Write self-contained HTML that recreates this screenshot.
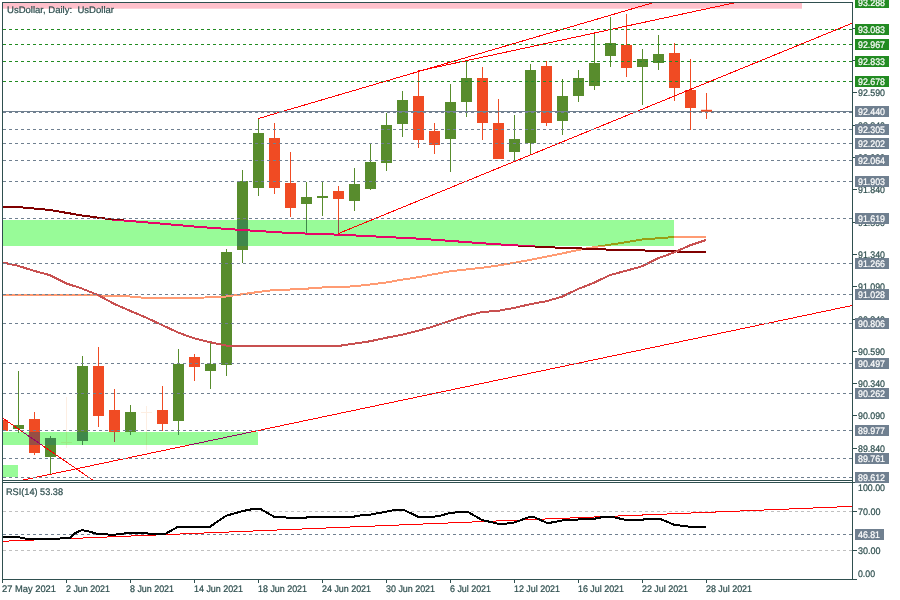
<!DOCTYPE html>
<html><head><meta charset="utf-8"><title>UsDollar Daily</title>
<style>html,body{margin:0;padding:0;background:#fff}body{width:900px;height:600px;overflow:hidden}</style></head>
<body>
<svg width="900" height="600" viewBox="0 0 900 600" style="display:block;will-change:transform" font-family="Liberation Sans, Arial, sans-serif" font-size="9.5" text-rendering="geometricPrecision">
<defs>
<clipPath id="main"><rect x="3" y="3" width="849" height="477"/></clipPath>
<clipPath id="b1"><rect x="3" y="432" width="255" height="13"/></clipPath>
<clipPath id="b2"><rect x="3" y="220" width="671" height="26"/></clipPath>
<clipPath id="b3"><rect x="3" y="465" width="15" height="12"/></clipPath>
<clipPath id="rsi"><rect x="3" y="483" width="849" height="96"/></clipPath>
</defs>
<rect width="900" height="600" fill="#FFFFFF"/>
<g clip-path="url(#main)">
<g shape-rendering="crispEdges"><rect x="2" y="420" width="1" height="11" fill="#F04B23"/>
<rect x="-3" y="420" width="11" height="11" fill="#F04B23"/>
<rect x="18" y="371" width="1" height="62" fill="#588C2D"/>
<rect x="13" y="425" width="11" height="4" fill="#588C2D"/>
<rect x="34" y="412" width="1" height="43" fill="#F04B23"/>
<rect x="29" y="419" width="11" height="34" fill="#F04B23"/>
<rect x="50" y="436" width="1" height="39" fill="#588C2D"/>
<rect x="45" y="438" width="11" height="19" fill="#588C2D"/>
<rect x="66" y="397" width="1" height="51" fill="#FDEEE2"/>
<rect x="61" y="442" width="11" height="1" fill="#FDEEE2"/>
<rect x="82" y="356" width="1" height="89" fill="#588C2D"/>
<rect x="77" y="366" width="11" height="75" fill="#588C2D"/>
<rect x="98" y="347" width="1" height="80" fill="#F04B23"/>
<rect x="93" y="366" width="11" height="50" fill="#F04B23"/>
<rect x="114" y="389" width="1" height="53" fill="#F04B23"/>
<rect x="109" y="410" width="11" height="22" fill="#F04B23"/>
<rect x="130" y="405" width="1" height="30" fill="#588C2D"/>
<rect x="125" y="412" width="11" height="20" fill="#588C2D"/>
<rect x="146" y="406" width="1" height="44" fill="#FDEEE2"/>
<rect x="141" y="412" width="11" height="1" fill="#FDEEE2"/>
<rect x="162" y="386" width="1" height="45" fill="#F04B23"/>
<rect x="157" y="410" width="11" height="14" fill="#F04B23"/>
<rect x="178" y="349" width="1" height="86" fill="#588C2D"/>
<rect x="173" y="364" width="11" height="57" fill="#588C2D"/>
<rect x="194" y="354" width="1" height="27" fill="#F04B23"/>
<rect x="189" y="357" width="11" height="10" fill="#F04B23"/>
<rect x="210" y="343" width="1" height="46" fill="#588C2D"/>
<rect x="205" y="364" width="11" height="7" fill="#588C2D"/>
<rect x="226" y="249" width="1" height="127" fill="#588C2D"/>
<rect x="221" y="252" width="11" height="113" fill="#588C2D"/>
<rect x="242" y="170" width="1" height="93" fill="#588C2D"/>
<rect x="237" y="181" width="11" height="69" fill="#588C2D"/>
<rect x="258" y="118" width="1" height="78" fill="#588C2D"/>
<rect x="253" y="133" width="11" height="55" fill="#588C2D"/>
<rect x="274" y="123" width="1" height="71" fill="#F04B23"/>
<rect x="269" y="138" width="11" height="50" fill="#F04B23"/>
<rect x="290" y="152" width="1" height="65" fill="#F04B23"/>
<rect x="285" y="183" width="11" height="25" fill="#F04B23"/>
<rect x="306" y="182" width="1" height="51" fill="#588C2D"/>
<rect x="301" y="197" width="11" height="7" fill="#588C2D"/>
<rect x="322" y="182" width="1" height="34" fill="#588C2D"/>
<rect x="317" y="196" width="11" height="2" fill="#588C2D"/>
<rect x="338" y="186" width="1" height="47" fill="#F04B23"/>
<rect x="333" y="191" width="11" height="8" fill="#F04B23"/>
<rect x="354" y="168" width="1" height="43" fill="#588C2D"/>
<rect x="349" y="184" width="11" height="17" fill="#588C2D"/>
<rect x="370" y="143" width="1" height="47" fill="#588C2D"/>
<rect x="365" y="162" width="11" height="27" fill="#588C2D"/>
<rect x="386" y="113" width="1" height="58" fill="#588C2D"/>
<rect x="381" y="125" width="11" height="38" fill="#588C2D"/>
<rect x="402" y="91" width="1" height="46" fill="#588C2D"/>
<rect x="397" y="100" width="11" height="24" fill="#588C2D"/>
<rect x="418" y="71" width="1" height="77" fill="#F04B23"/>
<rect x="413" y="96" width="11" height="44" fill="#F04B23"/>
<rect x="434" y="123" width="1" height="31" fill="#F04B23"/>
<rect x="429" y="131" width="11" height="14" fill="#F04B23"/>
<rect x="450" y="84" width="1" height="88" fill="#588C2D"/>
<rect x="445" y="102" width="11" height="37" fill="#588C2D"/>
<rect x="466" y="61" width="1" height="56" fill="#588C2D"/>
<rect x="461" y="78" width="11" height="24" fill="#588C2D"/>
<rect x="482" y="67" width="1" height="73" fill="#F04B23"/>
<rect x="477" y="78" width="11" height="45" fill="#F04B23"/>
<rect x="498" y="99" width="1" height="60" fill="#F04B23"/>
<rect x="493" y="123" width="11" height="36" fill="#F04B23"/>
<rect x="514" y="115" width="1" height="46" fill="#588C2D"/>
<rect x="509" y="139" width="11" height="13" fill="#588C2D"/>
<rect x="530" y="64" width="1" height="90" fill="#588C2D"/>
<rect x="525" y="70" width="11" height="73" fill="#588C2D"/>
<rect x="546" y="61" width="1" height="65" fill="#F04B23"/>
<rect x="541" y="66" width="11" height="57" fill="#F04B23"/>
<rect x="562" y="79" width="1" height="56" fill="#588C2D"/>
<rect x="557" y="96" width="11" height="25" fill="#588C2D"/>
<rect x="578" y="70" width="1" height="32" fill="#588C2D"/>
<rect x="573" y="78" width="11" height="18" fill="#588C2D"/>
<rect x="594" y="34" width="1" height="56" fill="#588C2D"/>
<rect x="589" y="63" width="11" height="23" fill="#588C2D"/>
<rect x="610" y="17" width="1" height="50" fill="#588C2D"/>
<rect x="605" y="43" width="11" height="13" fill="#588C2D"/>
<rect x="626" y="14" width="1" height="63" fill="#F04B23"/>
<rect x="621" y="45" width="11" height="23" fill="#F04B23"/>
<rect x="642" y="49" width="1" height="56" fill="#588C2D"/>
<rect x="637" y="59" width="11" height="8" fill="#588C2D"/>
<rect x="658" y="35" width="1" height="35" fill="#588C2D"/>
<rect x="653" y="54" width="11" height="9" fill="#588C2D"/>
<rect x="674" y="43" width="1" height="58" fill="#F04B23"/>
<rect x="669" y="53" width="11" height="35" fill="#F04B23"/>
<rect x="690" y="59" width="1" height="71" fill="#F04B23"/>
<rect x="685" y="90" width="11" height="18" fill="#F04B23"/>
<rect x="706" y="93" width="1" height="26" fill="#F04B23"/>
<rect x="701" y="110" width="11" height="2" fill="#F04B23"/></g>
<polyline points="2,294.6 50,294.7 98,295.5 130,296.5 146,298 194,298 226,296.5 242,294.3 258,292 274,290 290,289.5 306,288.7 322,287.5 338,287.2 354,286.3 370,284.5 386,282.5 402,279.7 418,277.2 434,274.2 450,271.3 466,269.5 482,267.8 498,265.5 514,262.8 530,260 546,256.7 562,253.5 578,250 594,247.2 610,244.7 626,242.2 642,239.5 658,238.3 674,237 706,237" fill="none" stroke="#FF9B73" stroke-width="2" stroke-linejoin="round" shape-rendering="crispEdges" />
<polyline points="2,207 18,207 50,210 82,215.5 114,219.7 146,222.3 200,227 242,230 290,233 340,234.7 420,238.7 490,243.8 514,245.3 530,246.2 546,247.2 570,248 610,249.7 658,250.8 690,252 706,252" fill="none" stroke="#800000" stroke-width="2" stroke-linejoin="round" shape-rendering="crispEdges" />
<polyline points="2,262.3 18,265.8 34,270.8 50,275.2 66,283.3 82,288.6 98,295 114,303.8 130,310.8 146,317.5 162,325 178,332.5 194,338.3 210,342.2 226,345.5 232,346 338,346 354,343.7 370,341.3 386,337.8 402,334.7 418,330.8 434,326.3 450,320.8 466,315.8 482,312 498,310.8 514,308 530,304.2 546,301.3 562,296.7 578,289 594,282.8 610,275 626,270.8 642,266.3 658,258.3 674,252.5 690,245.3 706,240" fill="none" stroke="#C85050" stroke-width="2" stroke-linejoin="round" shape-rendering="crispEdges" />
<line x1="2.5" y1="418" x2="93.3" y2="480.5" stroke="#FF0000" stroke-width="1" shape-rendering="crispEdges"/>
<line x1="20.8" y1="480.5" x2="852" y2="305.5" stroke="#FF0000" stroke-width="1" shape-rendering="crispEdges"/>
<rect x="3" y="432" width="255" height="13" fill="#98FB98" shape-rendering="crispEdges"/>
<rect x="3" y="220" width="671" height="26" fill="#98FB98" shape-rendering="crispEdges"/>
<rect x="3" y="465" width="15" height="12" fill="#98FB98" shape-rendering="crispEdges"/>
<rect x="3" y="3" width="799" height="5.7" fill="#FFC0CB"/>
<g clip-path="url(#b1)">
<g shape-rendering="crispEdges"><rect x="2" y="420" width="1" height="11" fill="#974F44"/>
<rect x="-3" y="420" width="11" height="11" fill="#974F44"/>
<rect x="18" y="371" width="1" height="62" fill="#3F884A"/>
<rect x="13" y="425" width="11" height="4" fill="#3F884A"/>
<rect x="34" y="412" width="1" height="43" fill="#974F44"/>
<rect x="29" y="419" width="11" height="34" fill="#974F44"/>
<rect x="50" y="436" width="1" height="39" fill="#3F884A"/>
<rect x="45" y="438" width="11" height="19" fill="#3F884A"/>
<rect x="66" y="397" width="1" height="51" fill="#9AEA85"/>
<rect x="61" y="442" width="11" height="1" fill="#9AEA85"/>
<rect x="82" y="356" width="1" height="89" fill="#3F884A"/>
<rect x="77" y="366" width="11" height="75" fill="#3F884A"/>
<rect x="98" y="347" width="1" height="80" fill="#974F44"/>
<rect x="93" y="366" width="11" height="50" fill="#974F44"/>
<rect x="114" y="389" width="1" height="53" fill="#974F44"/>
<rect x="109" y="410" width="11" height="22" fill="#974F44"/>
<rect x="130" y="405" width="1" height="30" fill="#3F884A"/>
<rect x="125" y="412" width="11" height="20" fill="#3F884A"/>
<rect x="146" y="406" width="1" height="44" fill="#9AEA85"/>
<rect x="141" y="412" width="11" height="1" fill="#9AEA85"/>
<rect x="162" y="386" width="1" height="45" fill="#974F44"/>
<rect x="157" y="410" width="11" height="14" fill="#974F44"/>
<rect x="178" y="349" width="1" height="86" fill="#3F884A"/>
<rect x="173" y="364" width="11" height="57" fill="#3F884A"/>
<rect x="194" y="354" width="1" height="27" fill="#974F44"/>
<rect x="189" y="357" width="11" height="10" fill="#974F44"/>
<rect x="210" y="343" width="1" height="46" fill="#3F884A"/>
<rect x="205" y="364" width="11" height="7" fill="#3F884A"/>
<rect x="226" y="249" width="1" height="127" fill="#3F884A"/>
<rect x="221" y="252" width="11" height="113" fill="#3F884A"/>
<rect x="242" y="170" width="1" height="93" fill="#3F884A"/>
<rect x="237" y="181" width="11" height="69" fill="#3F884A"/>
<rect x="258" y="118" width="1" height="78" fill="#3F884A"/>
<rect x="253" y="133" width="11" height="55" fill="#3F884A"/>
<rect x="274" y="123" width="1" height="71" fill="#974F44"/>
<rect x="269" y="138" width="11" height="50" fill="#974F44"/>
<rect x="290" y="152" width="1" height="65" fill="#974F44"/>
<rect x="285" y="183" width="11" height="25" fill="#974F44"/>
<rect x="306" y="182" width="1" height="51" fill="#3F884A"/>
<rect x="301" y="197" width="11" height="7" fill="#3F884A"/>
<rect x="322" y="182" width="1" height="34" fill="#3F884A"/>
<rect x="317" y="196" width="11" height="2" fill="#3F884A"/>
<rect x="338" y="186" width="1" height="47" fill="#974F44"/>
<rect x="333" y="191" width="11" height="8" fill="#974F44"/>
<rect x="354" y="168" width="1" height="43" fill="#3F884A"/>
<rect x="349" y="184" width="11" height="17" fill="#3F884A"/>
<rect x="370" y="143" width="1" height="47" fill="#3F884A"/>
<rect x="365" y="162" width="11" height="27" fill="#3F884A"/>
<rect x="386" y="113" width="1" height="58" fill="#3F884A"/>
<rect x="381" y="125" width="11" height="38" fill="#3F884A"/>
<rect x="402" y="91" width="1" height="46" fill="#3F884A"/>
<rect x="397" y="100" width="11" height="24" fill="#3F884A"/>
<rect x="418" y="71" width="1" height="77" fill="#974F44"/>
<rect x="413" y="96" width="11" height="44" fill="#974F44"/>
<rect x="434" y="123" width="1" height="31" fill="#974F44"/>
<rect x="429" y="131" width="11" height="14" fill="#974F44"/>
<rect x="450" y="84" width="1" height="88" fill="#3F884A"/>
<rect x="445" y="102" width="11" height="37" fill="#3F884A"/>
<rect x="466" y="61" width="1" height="56" fill="#3F884A"/>
<rect x="461" y="78" width="11" height="24" fill="#3F884A"/>
<rect x="482" y="67" width="1" height="73" fill="#974F44"/>
<rect x="477" y="78" width="11" height="45" fill="#974F44"/>
<rect x="498" y="99" width="1" height="60" fill="#974F44"/>
<rect x="493" y="123" width="11" height="36" fill="#974F44"/>
<rect x="514" y="115" width="1" height="46" fill="#3F884A"/>
<rect x="509" y="139" width="11" height="13" fill="#3F884A"/>
<rect x="530" y="64" width="1" height="90" fill="#3F884A"/>
<rect x="525" y="70" width="11" height="73" fill="#3F884A"/>
<rect x="546" y="61" width="1" height="65" fill="#974F44"/>
<rect x="541" y="66" width="11" height="57" fill="#974F44"/>
<rect x="562" y="79" width="1" height="56" fill="#3F884A"/>
<rect x="557" y="96" width="11" height="25" fill="#3F884A"/>
<rect x="578" y="70" width="1" height="32" fill="#3F884A"/>
<rect x="573" y="78" width="11" height="18" fill="#3F884A"/>
<rect x="594" y="34" width="1" height="56" fill="#3F884A"/>
<rect x="589" y="63" width="11" height="23" fill="#3F884A"/>
<rect x="610" y="17" width="1" height="50" fill="#3F884A"/>
<rect x="605" y="43" width="11" height="13" fill="#3F884A"/>
<rect x="626" y="14" width="1" height="63" fill="#974F44"/>
<rect x="621" y="45" width="11" height="23" fill="#974F44"/>
<rect x="642" y="49" width="1" height="56" fill="#3F884A"/>
<rect x="637" y="59" width="11" height="8" fill="#3F884A"/>
<rect x="658" y="35" width="1" height="35" fill="#3F884A"/>
<rect x="653" y="54" width="11" height="9" fill="#3F884A"/>
<rect x="674" y="43" width="1" height="58" fill="#974F44"/>
<rect x="669" y="53" width="11" height="35" fill="#974F44"/>
<rect x="690" y="59" width="1" height="71" fill="#974F44"/>
<rect x="685" y="90" width="11" height="18" fill="#974F44"/>
<rect x="706" y="93" width="1" height="26" fill="#974F44"/>
<rect x="701" y="110" width="11" height="2" fill="#974F44"/></g>
<polyline points="2,294.6 50,294.7 98,295.5 130,296.5 146,298 194,298 226,296.5 242,294.3 258,292 274,290 290,289.5 306,288.7 322,287.5 338,287.2 354,286.3 370,284.5 386,282.5 402,279.7 418,277.2 434,274.2 450,271.3 466,269.5 482,267.8 498,265.5 514,262.8 530,260 546,256.7 562,253.5 578,250 594,247.2 610,244.7 626,242.2 642,239.5 658,238.3 674,237 706,237" fill="none" stroke="#989F14" stroke-width="2" stroke-linejoin="round" shape-rendering="crispEdges" />
<polyline points="2,207 18,207 50,210 82,215.5 114,219.7 146,222.3 200,227 242,230 290,233 340,234.7 420,238.7 490,243.8 514,245.3 530,246.2 546,247.2 570,248 610,249.7 658,250.8 690,252 706,252" fill="none" stroke="#E70467" stroke-width="2" stroke-linejoin="round" shape-rendering="crispEdges" />
<polyline points="2,262.3 18,265.8 34,270.8 50,275.2 66,283.3 82,288.6 98,295 114,303.8 130,310.8 146,317.5 162,325 178,332.5 194,338.3 210,342.2 226,345.5 232,346 338,346 354,343.7 370,341.3 386,337.8 402,334.7 418,330.8 434,326.3 450,320.8 466,315.8 482,312 498,310.8 514,308 530,304.2 546,301.3 562,296.7 578,289 594,282.8 610,275 626,270.8 642,266.3 658,258.3 674,252.5 690,245.3 706,240" fill="none" stroke="#AF5437" stroke-width="2" stroke-linejoin="round" shape-rendering="crispEdges" />
<line x1="2.5" y1="418" x2="93.3" y2="480.5" stroke="#980467" stroke-width="1" shape-rendering="crispEdges"/>
<line x1="20.8" y1="480.5" x2="852" y2="305.5" stroke="#980467" stroke-width="1" shape-rendering="crispEdges"/>
</g>
<g clip-path="url(#b2)">
<g shape-rendering="crispEdges"><rect x="2" y="420" width="1" height="11" fill="#974F44"/>
<rect x="-3" y="420" width="11" height="11" fill="#974F44"/>
<rect x="18" y="371" width="1" height="62" fill="#3F884A"/>
<rect x="13" y="425" width="11" height="4" fill="#3F884A"/>
<rect x="34" y="412" width="1" height="43" fill="#974F44"/>
<rect x="29" y="419" width="11" height="34" fill="#974F44"/>
<rect x="50" y="436" width="1" height="39" fill="#3F884A"/>
<rect x="45" y="438" width="11" height="19" fill="#3F884A"/>
<rect x="66" y="397" width="1" height="51" fill="#9AEA85"/>
<rect x="61" y="442" width="11" height="1" fill="#9AEA85"/>
<rect x="82" y="356" width="1" height="89" fill="#3F884A"/>
<rect x="77" y="366" width="11" height="75" fill="#3F884A"/>
<rect x="98" y="347" width="1" height="80" fill="#974F44"/>
<rect x="93" y="366" width="11" height="50" fill="#974F44"/>
<rect x="114" y="389" width="1" height="53" fill="#974F44"/>
<rect x="109" y="410" width="11" height="22" fill="#974F44"/>
<rect x="130" y="405" width="1" height="30" fill="#3F884A"/>
<rect x="125" y="412" width="11" height="20" fill="#3F884A"/>
<rect x="146" y="406" width="1" height="44" fill="#9AEA85"/>
<rect x="141" y="412" width="11" height="1" fill="#9AEA85"/>
<rect x="162" y="386" width="1" height="45" fill="#974F44"/>
<rect x="157" y="410" width="11" height="14" fill="#974F44"/>
<rect x="178" y="349" width="1" height="86" fill="#3F884A"/>
<rect x="173" y="364" width="11" height="57" fill="#3F884A"/>
<rect x="194" y="354" width="1" height="27" fill="#974F44"/>
<rect x="189" y="357" width="11" height="10" fill="#974F44"/>
<rect x="210" y="343" width="1" height="46" fill="#3F884A"/>
<rect x="205" y="364" width="11" height="7" fill="#3F884A"/>
<rect x="226" y="249" width="1" height="127" fill="#3F884A"/>
<rect x="221" y="252" width="11" height="113" fill="#3F884A"/>
<rect x="242" y="170" width="1" height="93" fill="#3F884A"/>
<rect x="237" y="181" width="11" height="69" fill="#3F884A"/>
<rect x="258" y="118" width="1" height="78" fill="#3F884A"/>
<rect x="253" y="133" width="11" height="55" fill="#3F884A"/>
<rect x="274" y="123" width="1" height="71" fill="#974F44"/>
<rect x="269" y="138" width="11" height="50" fill="#974F44"/>
<rect x="290" y="152" width="1" height="65" fill="#974F44"/>
<rect x="285" y="183" width="11" height="25" fill="#974F44"/>
<rect x="306" y="182" width="1" height="51" fill="#3F884A"/>
<rect x="301" y="197" width="11" height="7" fill="#3F884A"/>
<rect x="322" y="182" width="1" height="34" fill="#3F884A"/>
<rect x="317" y="196" width="11" height="2" fill="#3F884A"/>
<rect x="338" y="186" width="1" height="47" fill="#974F44"/>
<rect x="333" y="191" width="11" height="8" fill="#974F44"/>
<rect x="354" y="168" width="1" height="43" fill="#3F884A"/>
<rect x="349" y="184" width="11" height="17" fill="#3F884A"/>
<rect x="370" y="143" width="1" height="47" fill="#3F884A"/>
<rect x="365" y="162" width="11" height="27" fill="#3F884A"/>
<rect x="386" y="113" width="1" height="58" fill="#3F884A"/>
<rect x="381" y="125" width="11" height="38" fill="#3F884A"/>
<rect x="402" y="91" width="1" height="46" fill="#3F884A"/>
<rect x="397" y="100" width="11" height="24" fill="#3F884A"/>
<rect x="418" y="71" width="1" height="77" fill="#974F44"/>
<rect x="413" y="96" width="11" height="44" fill="#974F44"/>
<rect x="434" y="123" width="1" height="31" fill="#974F44"/>
<rect x="429" y="131" width="11" height="14" fill="#974F44"/>
<rect x="450" y="84" width="1" height="88" fill="#3F884A"/>
<rect x="445" y="102" width="11" height="37" fill="#3F884A"/>
<rect x="466" y="61" width="1" height="56" fill="#3F884A"/>
<rect x="461" y="78" width="11" height="24" fill="#3F884A"/>
<rect x="482" y="67" width="1" height="73" fill="#974F44"/>
<rect x="477" y="78" width="11" height="45" fill="#974F44"/>
<rect x="498" y="99" width="1" height="60" fill="#974F44"/>
<rect x="493" y="123" width="11" height="36" fill="#974F44"/>
<rect x="514" y="115" width="1" height="46" fill="#3F884A"/>
<rect x="509" y="139" width="11" height="13" fill="#3F884A"/>
<rect x="530" y="64" width="1" height="90" fill="#3F884A"/>
<rect x="525" y="70" width="11" height="73" fill="#3F884A"/>
<rect x="546" y="61" width="1" height="65" fill="#974F44"/>
<rect x="541" y="66" width="11" height="57" fill="#974F44"/>
<rect x="562" y="79" width="1" height="56" fill="#3F884A"/>
<rect x="557" y="96" width="11" height="25" fill="#3F884A"/>
<rect x="578" y="70" width="1" height="32" fill="#3F884A"/>
<rect x="573" y="78" width="11" height="18" fill="#3F884A"/>
<rect x="594" y="34" width="1" height="56" fill="#3F884A"/>
<rect x="589" y="63" width="11" height="23" fill="#3F884A"/>
<rect x="610" y="17" width="1" height="50" fill="#3F884A"/>
<rect x="605" y="43" width="11" height="13" fill="#3F884A"/>
<rect x="626" y="14" width="1" height="63" fill="#974F44"/>
<rect x="621" y="45" width="11" height="23" fill="#974F44"/>
<rect x="642" y="49" width="1" height="56" fill="#3F884A"/>
<rect x="637" y="59" width="11" height="8" fill="#3F884A"/>
<rect x="658" y="35" width="1" height="35" fill="#3F884A"/>
<rect x="653" y="54" width="11" height="9" fill="#3F884A"/>
<rect x="674" y="43" width="1" height="58" fill="#974F44"/>
<rect x="669" y="53" width="11" height="35" fill="#974F44"/>
<rect x="690" y="59" width="1" height="71" fill="#974F44"/>
<rect x="685" y="90" width="11" height="18" fill="#974F44"/>
<rect x="706" y="93" width="1" height="26" fill="#974F44"/>
<rect x="701" y="110" width="11" height="2" fill="#974F44"/></g>
<polyline points="2,294.6 50,294.7 98,295.5 130,296.5 146,298 194,298 226,296.5 242,294.3 258,292 274,290 290,289.5 306,288.7 322,287.5 338,287.2 354,286.3 370,284.5 386,282.5 402,279.7 418,277.2 434,274.2 450,271.3 466,269.5 482,267.8 498,265.5 514,262.8 530,260 546,256.7 562,253.5 578,250 594,247.2 610,244.7 626,242.2 642,239.5 658,238.3 674,237 706,237" fill="none" stroke="#989F14" stroke-width="2" stroke-linejoin="round" shape-rendering="crispEdges" />
<polyline points="2,207 18,207 50,210 82,215.5 114,219.7 146,222.3 200,227 242,230 290,233 340,234.7 420,238.7 490,243.8 514,245.3 530,246.2 546,247.2 570,248 610,249.7 658,250.8 690,252 706,252" fill="none" stroke="#E70467" stroke-width="2" stroke-linejoin="round" shape-rendering="crispEdges" />
<polyline points="2,262.3 18,265.8 34,270.8 50,275.2 66,283.3 82,288.6 98,295 114,303.8 130,310.8 146,317.5 162,325 178,332.5 194,338.3 210,342.2 226,345.5 232,346 338,346 354,343.7 370,341.3 386,337.8 402,334.7 418,330.8 434,326.3 450,320.8 466,315.8 482,312 498,310.8 514,308 530,304.2 546,301.3 562,296.7 578,289 594,282.8 610,275 626,270.8 642,266.3 658,258.3 674,252.5 690,245.3 706,240" fill="none" stroke="#AF5437" stroke-width="2" stroke-linejoin="round" shape-rendering="crispEdges" />
</g>
<line x1="258.5" y1="118.5" x2="652" y2="3" stroke="#FF0000" stroke-width="1" shape-rendering="crispEdges"/>
<line x1="418.5" y1="71" x2="733.5" y2="3" stroke="#FF0000" stroke-width="1" shape-rendering="crispEdges"/>
<line x1="338.5" y1="233.5" x2="852" y2="23.3" stroke="#FF0000" stroke-width="1" shape-rendering="crispEdges"/>
<g shape-rendering="crispEdges">
<line x1="3" y1="29.5" x2="852" y2="29.5" stroke="#228B22" stroke-width="1" stroke-dasharray="3 3" stroke-dashoffset="0"/>
<line x1="3" y1="44.5" x2="852" y2="44.5" stroke="#228B22" stroke-width="1" stroke-dasharray="3 3" stroke-dashoffset="0"/>
<line x1="3" y1="61.5" x2="852" y2="61.5" stroke="#228B22" stroke-width="1" stroke-dasharray="3 3" stroke-dashoffset="0"/>
<line x1="3" y1="81.5" x2="852" y2="81.5" stroke="#228B22" stroke-width="1" stroke-dasharray="3 3" stroke-dashoffset="0"/>
<line x1="3" y1="112.5" x2="852" y2="112.5" stroke="#708090" stroke-width="1" stroke-dasharray="3 3" stroke-dashoffset="0"/>
<line x1="3" y1="129.5" x2="852" y2="129.5" stroke="#708090" stroke-width="1" stroke-dasharray="3 3" stroke-dashoffset="0"/>
<line x1="3" y1="143.5" x2="852" y2="143.5" stroke="#708090" stroke-width="1" stroke-dasharray="3 3" stroke-dashoffset="0"/>
<line x1="3" y1="160.5" x2="852" y2="160.5" stroke="#708090" stroke-width="1" stroke-dasharray="3 3" stroke-dashoffset="0"/>
<line x1="3" y1="181.5" x2="852" y2="181.5" stroke="#708090" stroke-width="1" stroke-dasharray="3 3" stroke-dashoffset="0"/>
<line x1="3" y1="218.5" x2="852" y2="218.5" stroke="#708090" stroke-width="1" stroke-dasharray="3 3" stroke-dashoffset="0"/>
<line x1="3" y1="263.5" x2="852" y2="263.5" stroke="#708090" stroke-width="1" stroke-dasharray="3 3" stroke-dashoffset="0"/>
<line x1="3" y1="294.5" x2="852" y2="294.5" stroke="#708090" stroke-width="1" stroke-dasharray="3 3" stroke-dashoffset="0"/>
<line x1="3" y1="323.5" x2="852" y2="323.5" stroke="#708090" stroke-width="1" stroke-dasharray="3 3" stroke-dashoffset="0"/>
<line x1="3" y1="363.5" x2="852" y2="363.5" stroke="#708090" stroke-width="1" stroke-dasharray="3 3" stroke-dashoffset="0"/>
<line x1="3" y1="393.5" x2="852" y2="393.5" stroke="#708090" stroke-width="1" stroke-dasharray="3 3" stroke-dashoffset="0"/>
<line x1="3" y1="430.5" x2="852" y2="430.5" stroke="#708090" stroke-width="1" stroke-dasharray="3 3" stroke-dashoffset="0"/>
<line x1="3" y1="458.5" x2="852" y2="458.5" stroke="#708090" stroke-width="1" stroke-dasharray="3 3" stroke-dashoffset="0"/>
<line x1="3" y1="477.5" x2="852" y2="477.5" stroke="#708090" stroke-width="1" stroke-dasharray="3 3" stroke-dashoffset="0"/>
<rect x="3" y="111" width="849" height="1" fill="#708090"/>
</g>
<rect x="701" y="109.8" width="11" height="1.8" fill="#F04B23"/>
</g>
<g fill="#2F4F4F" shape-rendering="crispEdges">
<rect x="2" y="2" width="851" height="1"/>
<rect x="2" y="2" width="1" height="581"/>
<rect x="852" y="2" width="1" height="578"/>
<rect x="2" y="480" width="851" height="1"/>
<rect x="2" y="482" width="855" height="1"/>
<rect x="2" y="579" width="855" height="1"/>
<rect x="853" y="28" width="4" height="1"/>
<rect x="853" y="60" width="4" height="1"/>
<rect x="853" y="92" width="4" height="1"/>
<rect x="853" y="125" width="4" height="1"/>
<rect x="853" y="157" width="4" height="1"/>
<rect x="853" y="189" width="4" height="1"/>
<rect x="853" y="222" width="4" height="1"/>
<rect x="853" y="254" width="4" height="1"/>
<rect x="853" y="286" width="4" height="1"/>
<rect x="853" y="319" width="4" height="1"/>
<rect x="853" y="351" width="4" height="1"/>
<rect x="853" y="383" width="4" height="1"/>
<rect x="853" y="415" width="4" height="1"/>
<rect x="853" y="448" width="4" height="1"/>
<rect x="853" y="511" width="4" height="1"/>
<rect x="853" y="550" width="4" height="1"/>
<rect x="2" y="580" width="1" height="3"/>
<rect x="66" y="580" width="1" height="3"/>
<rect x="130" y="580" width="1" height="3"/>
<rect x="194" y="580" width="1" height="3"/>
<rect x="258" y="580" width="1" height="3"/>
<rect x="322" y="580" width="1" height="3"/>
<rect x="386" y="580" width="1" height="3"/>
<rect x="450" y="580" width="1" height="3"/>
<rect x="514" y="580" width="1" height="3"/>
<rect x="578" y="580" width="1" height="3"/>
<rect x="642" y="580" width="1" height="3"/>
<rect x="706" y="580" width="1" height="3"/>
</g>
<text transform="translate(858,96) scale(0.9293,1)" fill="#2F4F4F" stroke="#2F4F4F" stroke-width="0.22" style="white-space:pre">92.590</text>
<text transform="translate(858,129) scale(0.9293,1)" fill="#2F4F4F" stroke="#2F4F4F" stroke-width="0.22" style="white-space:pre">92.340</text>
<text transform="translate(858,161) scale(0.9293,1)" fill="#2F4F4F" stroke="#2F4F4F" stroke-width="0.22" style="white-space:pre">92.090</text>
<text transform="translate(858,193) scale(0.9293,1)" fill="#2F4F4F" stroke="#2F4F4F" stroke-width="0.22" style="white-space:pre">91.840</text>
<text transform="translate(858,226) scale(0.9293,1)" fill="#2F4F4F" stroke="#2F4F4F" stroke-width="0.22" style="white-space:pre">91.590</text>
<text transform="translate(858,258) scale(0.9293,1)" fill="#2F4F4F" stroke="#2F4F4F" stroke-width="0.22" style="white-space:pre">91.340</text>
<text transform="translate(858,290) scale(0.9293,1)" fill="#2F4F4F" stroke="#2F4F4F" stroke-width="0.22" style="white-space:pre">91.090</text>
<text transform="translate(858,323) scale(0.9293,1)" fill="#2F4F4F" stroke="#2F4F4F" stroke-width="0.22" style="white-space:pre">90.840</text>
<text transform="translate(858,355) scale(0.9293,1)" fill="#2F4F4F" stroke="#2F4F4F" stroke-width="0.22" style="white-space:pre">90.590</text>
<text transform="translate(858,387) scale(0.9293,1)" fill="#2F4F4F" stroke="#2F4F4F" stroke-width="0.22" style="white-space:pre">90.340</text>
<text transform="translate(858,419) scale(0.9293,1)" fill="#2F4F4F" stroke="#2F4F4F" stroke-width="0.22" style="white-space:pre">90.090</text>
<text transform="translate(858,452) scale(0.9293,1)" fill="#2F4F4F" stroke="#2F4F4F" stroke-width="0.22" style="white-space:pre">89.840</text>
<rect x="855" y="-3" width="34" height="11" fill="#228B22" shape-rendering="crispEdges"/>
<text transform="translate(858,6) scale(0.9293,1)" fill="#FFFFFF" stroke="#FFFFFF" stroke-width="0.22" style="white-space:pre">93.288</text>
<rect x="855" y="24" width="34" height="11" fill="#228B22" shape-rendering="crispEdges"/>
<text transform="translate(858,33) scale(0.9293,1)" fill="#FFFFFF" stroke="#FFFFFF" stroke-width="0.22" style="white-space:pre">93.083</text>
<rect x="855" y="39" width="34" height="11" fill="#228B22" shape-rendering="crispEdges"/>
<text transform="translate(858,48) scale(0.9293,1)" fill="#FFFFFF" stroke="#FFFFFF" stroke-width="0.22" style="white-space:pre">92.967</text>
<rect x="855" y="56" width="34" height="11" fill="#228B22" shape-rendering="crispEdges"/>
<text transform="translate(858,65) scale(0.9293,1)" fill="#FFFFFF" stroke="#FFFFFF" stroke-width="0.22" style="white-space:pre">92.833</text>
<rect x="855" y="76" width="34" height="11" fill="#228B22" shape-rendering="crispEdges"/>
<text transform="translate(858,85) scale(0.9293,1)" fill="#FFFFFF" stroke="#FFFFFF" stroke-width="0.22" style="white-space:pre">92.678</text>
<rect x="855" y="106" width="34" height="11" fill="#708090" shape-rendering="crispEdges"/>
<text transform="translate(858,115) scale(0.9293,1)" fill="#FFFFFF" stroke="#FFFFFF" stroke-width="0.22" style="white-space:pre">92.440</text>
<rect x="855" y="124" width="34" height="11" fill="#708090" shape-rendering="crispEdges"/>
<text transform="translate(858,133) scale(0.9293,1)" fill="#FFFFFF" stroke="#FFFFFF" stroke-width="0.22" style="white-space:pre">92.305</text>
<rect x="855" y="138" width="34" height="11" fill="#708090" shape-rendering="crispEdges"/>
<text transform="translate(858,147) scale(0.9293,1)" fill="#FFFFFF" stroke="#FFFFFF" stroke-width="0.22" style="white-space:pre">92.202</text>
<rect x="855" y="155" width="34" height="11" fill="#708090" shape-rendering="crispEdges"/>
<text transform="translate(858,164) scale(0.9293,1)" fill="#FFFFFF" stroke="#FFFFFF" stroke-width="0.22" style="white-space:pre">92.064</text>
<rect x="855" y="176" width="34" height="11" fill="#708090" shape-rendering="crispEdges"/>
<text transform="translate(858,185) scale(0.9293,1)" fill="#FFFFFF" stroke="#FFFFFF" stroke-width="0.22" style="white-space:pre">91.903</text>
<rect x="855" y="213" width="34" height="11" fill="#708090" shape-rendering="crispEdges"/>
<text transform="translate(858,222) scale(0.9293,1)" fill="#FFFFFF" stroke="#FFFFFF" stroke-width="0.22" style="white-space:pre">91.619</text>
<rect x="855" y="258" width="34" height="11" fill="#708090" shape-rendering="crispEdges"/>
<text transform="translate(858,267) scale(0.9293,1)" fill="#FFFFFF" stroke="#FFFFFF" stroke-width="0.22" style="white-space:pre">91.266</text>
<rect x="855" y="289" width="34" height="11" fill="#708090" shape-rendering="crispEdges"/>
<text transform="translate(858,298) scale(0.9293,1)" fill="#FFFFFF" stroke="#FFFFFF" stroke-width="0.22" style="white-space:pre">91.028</text>
<rect x="855" y="318" width="34" height="11" fill="#708090" shape-rendering="crispEdges"/>
<text transform="translate(858,327) scale(0.9293,1)" fill="#FFFFFF" stroke="#FFFFFF" stroke-width="0.22" style="white-space:pre">90.806</text>
<rect x="855" y="358" width="34" height="11" fill="#708090" shape-rendering="crispEdges"/>
<text transform="translate(858,367) scale(0.9293,1)" fill="#FFFFFF" stroke="#FFFFFF" stroke-width="0.22" style="white-space:pre">90.497</text>
<rect x="855" y="388" width="34" height="11" fill="#708090" shape-rendering="crispEdges"/>
<text transform="translate(858,397) scale(0.9293,1)" fill="#FFFFFF" stroke="#FFFFFF" stroke-width="0.22" style="white-space:pre">90.262</text>
<rect x="855" y="425" width="34" height="11" fill="#708090" shape-rendering="crispEdges"/>
<text transform="translate(858,434) scale(0.9293,1)" fill="#FFFFFF" stroke="#FFFFFF" stroke-width="0.22" style="white-space:pre">89.977</text>
<rect x="855" y="453" width="34" height="11" fill="#708090" shape-rendering="crispEdges"/>
<text transform="translate(858,462) scale(0.9293,1)" fill="#FFFFFF" stroke="#FFFFFF" stroke-width="0.22" style="white-space:pre">89.761</text>
<rect x="855" y="472" width="34" height="11" fill="#708090" shape-rendering="crispEdges"/>
<text transform="translate(858,481) scale(0.9293,1)" fill="#FFFFFF" stroke="#FFFFFF" stroke-width="0.22" style="white-space:pre">89.612</text>
<g clip-path="url(#rsi)">
<g shape-rendering="crispEdges">
<line x1="3" y1="511.5" x2="852" y2="511.5" stroke="#C0C0C0" stroke-width="1" stroke-dasharray="3 3" stroke-dashoffset="0"/>
<line x1="3" y1="550.5" x2="852" y2="550.5" stroke="#C0C0C0" stroke-width="1" stroke-dasharray="3 3" stroke-dashoffset="0"/>
<line x1="3" y1="534.5" x2="852" y2="534.5" stroke="#708090" stroke-width="1" stroke-dasharray="3 3" stroke-dashoffset="0"/>
</g>
<line x1="2.5" y1="541.3" x2="852" y2="506.4" stroke="#FF0000" stroke-width="1" shape-rendering="crispEdges"/>
<polyline points="2,537 18,537.2 26,538.7 34,539.3 50,539.3 66,538 70,538 74,533.7 82,530 90,531.7 98,534.2 114,534.7 122,533.7 130,533 146,532.8 150,534.2 162,534.2 166,533.5 178,526.7 210,526.7 226,515.8 242,511.2 254,508.8 260,508.8 274,516.7 290,517.8 306,517.8 308,516.7 354,516.7 356,515.8 370,514.7 386,511.7 394,510 404,510 418,516.7 434,516.7 440,515.8 450,513 460,512 468,512 482,520 498,523.7 506,523.7 514,522.5 522,519.7 530,516.7 534,517 546,522.5 550,522.8 562,520.5 578,519.5 590,518.8 594,518.8 602,517.2 614,517.2 626,520 642,520 646,518.8 660,518.8 674,524.7 690,526.7 706,526.7" fill="none" stroke="#000000" stroke-width="2" stroke-linejoin="round" shape-rendering="crispEdges" />
</g>
<rect x="855" y="529" width="29" height="11" fill="#708090" shape-rendering="crispEdges"/>
<text transform="translate(858,538) scale(0.9255,1)" fill="#FFFFFF" stroke="#FFFFFF" stroke-width="0.22" style="white-space:pre">46.81</text>
<text transform="translate(858,491) scale(0.9293,1)" fill="#2F4F4F" stroke="#2F4F4F" stroke-width="0.22" style="white-space:pre">100.00</text>
<text transform="translate(858,515) scale(0.9466,1)" fill="#2F4F4F" stroke="#2F4F4F" stroke-width="0.22" style="white-space:pre">70.00</text>
<text transform="translate(858,554) scale(0.9466,1)" fill="#2F4F4F" stroke="#2F4F4F" stroke-width="0.22" style="white-space:pre">30.00</text>
<text transform="translate(858,577) scale(0.9195,1)" fill="#2F4F4F" stroke="#2F4F4F" stroke-width="0.22" style="white-space:pre">0.00</text>
<text transform="translate(7,13) scale(1.0034,1)" fill="#2F4F4F" stroke="#2F4F4F" stroke-width="0.22" style="white-space:pre">UsDollar, Daily:  UsDollar</text>
<text transform="translate(6,495) scale(0.9638,1)" fill="#2F4F4F" stroke="#2F4F4F" stroke-width="0.22" style="white-space:pre">RSI(14) 53.38</text>
<text transform="translate(2,592) scale(0.9832,1)" fill="#2F4F4F" stroke="#2F4F4F" stroke-width="0.22" style="white-space:pre">27 May 2021</text>
<text transform="translate(66,592) scale(0.9360,1)" fill="#2F4F4F" stroke="#2F4F4F" stroke-width="0.22" style="white-space:pre">2 Jun 2021</text>
<text transform="translate(130,592) scale(0.9360,1)" fill="#2F4F4F" stroke="#2F4F4F" stroke-width="0.22" style="white-space:pre">8 Jun 2021</text>
<text transform="translate(194,592) scale(0.9371,1)" fill="#2F4F4F" stroke="#2F4F4F" stroke-width="0.22" style="white-space:pre">14 Jun 2021</text>
<text transform="translate(258,592) scale(0.9371,1)" fill="#2F4F4F" stroke="#2F4F4F" stroke-width="0.22" style="white-space:pre">18 Jun 2021</text>
<text transform="translate(322,592) scale(0.9371,1)" fill="#2F4F4F" stroke="#2F4F4F" stroke-width="0.22" style="white-space:pre">24 Jun 2021</text>
<text transform="translate(386,592) scale(0.9371,1)" fill="#2F4F4F" stroke="#2F4F4F" stroke-width="0.22" style="white-space:pre">30 Jun 2021</text>
<text transform="translate(450,592) scale(0.9353,1)" fill="#2F4F4F" stroke="#2F4F4F" stroke-width="0.22" style="white-space:pre">6 Jul 2021</text>
<text transform="translate(514,592) scale(0.9365,1)" fill="#2F4F4F" stroke="#2F4F4F" stroke-width="0.22" style="white-space:pre">12 Jul 2021</text>
<text transform="translate(578,592) scale(0.9365,1)" fill="#2F4F4F" stroke="#2F4F4F" stroke-width="0.22" style="white-space:pre">16 Jul 2021</text>
<text transform="translate(642,592) scale(0.9365,1)" fill="#2F4F4F" stroke="#2F4F4F" stroke-width="0.22" style="white-space:pre">22 Jul 2021</text>
<text transform="translate(706,592) scale(0.9365,1)" fill="#2F4F4F" stroke="#2F4F4F" stroke-width="0.22" style="white-space:pre">28 Jul 2021</text>
</svg>
</body></html>
